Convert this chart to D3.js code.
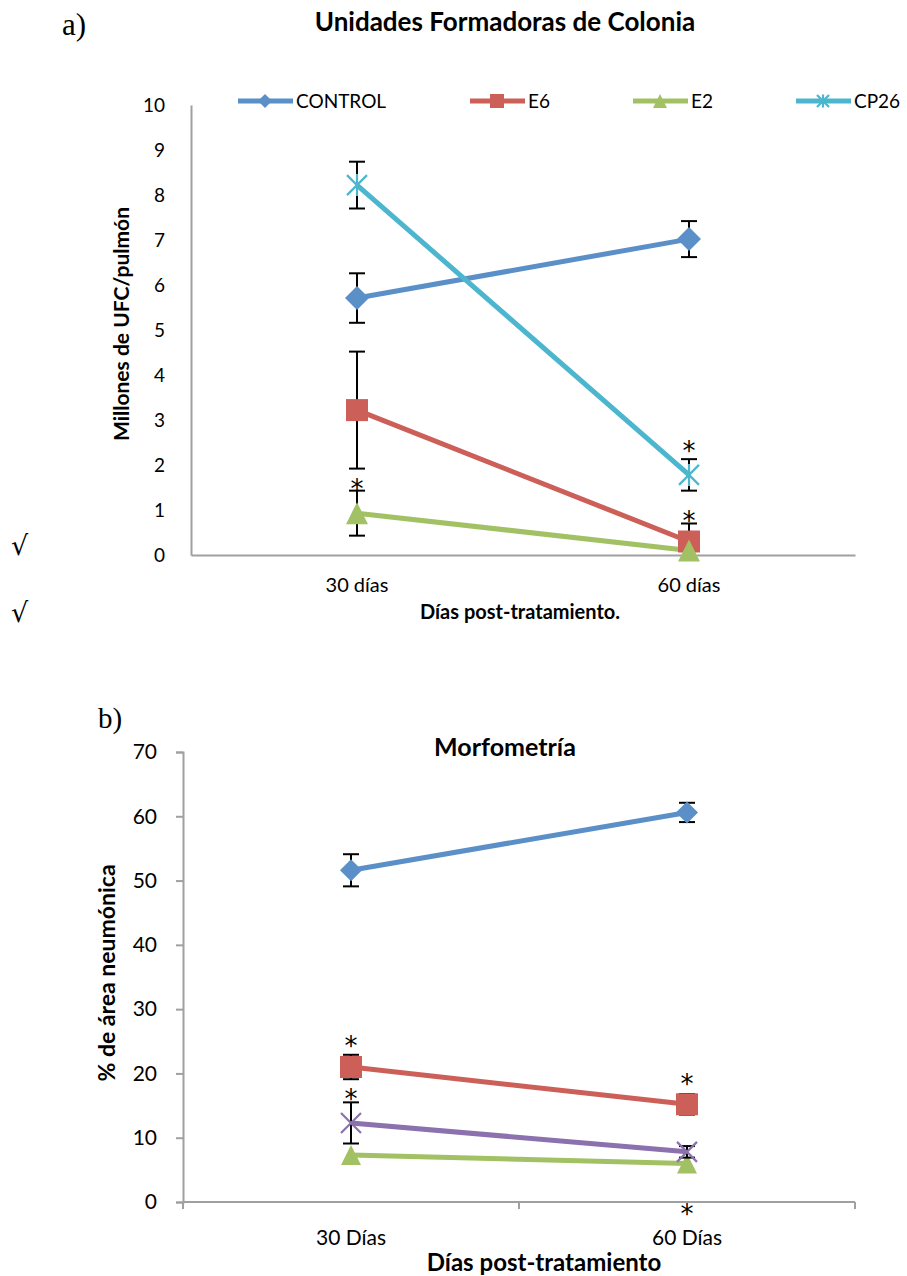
<!DOCTYPE html>
<html>
<head>
<meta charset="utf-8">
<script src="https://cdn.jsdelivr.net/npm/d3@7/dist/d3.min.js"></script>
<style>
  html, body { margin: 0; padding: 0; background: #fff; }
  svg { display: block; }
  text { font-family: Lato, "Open Sans", sans-serif; fill: #000; }
</style>
</head>
<body>
<svg id="chart" width="907" height="1276"></svg>
<script>
// ---- Panel a) : colony forming units ----
const ufcCategories = ["30 días", "60 días"];
const ufcSeriesNames = ["CONTROL", "E6", "E2", "CP26"];
const ufcControl = [5.71, 7.02];
const ufcControlErr = [0.55, 0.40];
const ufcE6 = [3.22, 0.30];
const ufcE6Err = [1.30, 0.40];
const ufcE2 = [0.93, 0.10];
const ufcE2Err = [0.50, 0];
const ufcCP26 = [8.22, 1.78];
const ufcCP26Err = [0.52, 0.35];
const ufcTicks = [0, 1, 2, 3, 4, 5, 6, 7, 8, 9, 10];
// significance marks: [series, category index, value where the mark sits]
const ufcStars = [["E2", 0, 1.56], ["CP26", 1, 2.40], ["E6", 1, 0.85]];

// ---- Panel b) : morphometry ----
const morfCategories = ["30 Días", "60 Días"];
const morfControl = [51.6, 60.6];
const morfControlErr = [2.5, 1.5];
const morfE6 = [21.0, 15.2];
const morfE6Err = [1.9, 1.6];
const morfE2 = [7.3, 6.0];
const morfE2Err = [0, 0];
const morfCP26 = [12.3, 7.8];
const morfCP26Err = [3.2, 0.9];
const morfTicks = [0, 10, 20, 30, 40, 50, 60, 70];
const morfStars = [["E6", 0, 24.9], ["CP26", 0, 16.6], ["E6", 1, 19.0], ["E2", 1, -1.2]];

const colors = { CONTROL: "#5B8FC8", E6: "#CD5F59", E2: "#A2C164", CP26: "#4CB6CE", CP26b: "#8B71AE" };

const svg = d3.select("#chart");

// marker shapes
function marker(g, shape, color, x, y, s) {
  if (shape === "diamond") {
    g.append("path").attr("d", `M${x},${y - s}L${x + s},${y}L${x},${y + s}L${x - s},${y}Z`).attr("fill", color);
  } else if (shape === "square") {
    g.append("rect").attr("x", x - s).attr("y", y - s).attr("width", 2 * s).attr("height", 2 * s).attr("fill", color);
  } else if (shape === "triangle") {
    g.append("path").attr("d", `M${x},${y - s}L${x + s},${y + s}L${x - s},${y + s}Z`).attr("fill", color);
  } else if (shape === "star") {
    g.append("path").attr("d", `M${x - s},${y - s}L${x + s},${y + s}M${x - s},${y + s}L${x + s},${y - s}M${x},${y - s * 1.1}L${x},${y + s * 1.1}`)
      .attr("stroke", color).attr("stroke-width", 2.2).attr("fill", "none");
  } else if (shape === "x") {
    g.append("path").attr("d", `M${x - s},${y - s}L${x + s},${y + s}M${x - s},${y + s}L${x + s},${y - s}`)
      .attr("stroke", color).attr("stroke-width", 2.2).attr("fill", "none");
  }
}

function drawSeries(g, x, y, cats, vals, errs, color, shape, size) {
  const pts = cats.map((c, i) => [x(c) + x.bandwidth() / 2, y(vals[i])]);
  g.append("path").attr("d", d3.line()(pts)).attr("stroke", color).attr("stroke-width", 5)
    .attr("fill", "none").attr("stroke-linejoin", "round");
  return { pts, cats, vals, errs, color, shape, size };
}

function drawErrors(g, x, y, s) {
  s.cats.forEach((c, i) => {
    const e = s.errs[i];
    if (!e) return;
    const cx = x(c) + x.bandwidth() / 2;
    const y1 = y(s.vals[i] + e), y0 = y(s.vals[i] - e);
    g.append("line").attr("x1", cx).attr("x2", cx).attr("y1", y1).attr("y2", y0).attr("stroke", "#000").attr("stroke-width", 2);
    [y1, y0].forEach(yy => g.append("line").attr("x1", cx - 8).attr("x2", cx + 8).attr("y1", yy).attr("y2", yy)
      .attr("stroke", "#000").attr("stroke-width", 2));
  });
}

function drawMarkers(g, s) {
  s.pts.forEach(p => marker(g, s.shape, s.color, p[0], p[1], s.size));
}

function drawStars(g, x, y, cats, stars) {
  stars.forEach(([_, ci, v]) => {
    g.append("text").attr("x", x(cats[ci]) + x.bandwidth() / 2).attr("y", y(v) + 13)
      .attr("text-anchor", "middle").style("font-family", "'DejaVu Sans', sans-serif").style("font-size", "26px").text("*");
  });
}

// ================= Panel a =================
{
  const g = svg.append("g");
  const x = d3.scaleBand().domain(ufcCategories).range([191, 855]);
  const y = d3.scaleLinear().domain([0, 10]).range([555, 105]);

  svg.append("text").attr("x", 62).attr("y", 35).style("font-family", "'Liberation Serif', serif").style("font-size", "31px").text("a)");
  svg.append("text").attr("x", 505).attr("y", 31).attr("text-anchor", "middle").style("font-weight", "bold").style("font-size", "26px")
    .text("Unidades Formadoras de Colonia");

  const yAxis = g.append("g").attr("transform", "translate(191,0)")
    .call(d3.axisLeft(y).tickValues(ufcTicks).tickSize(0).tickPadding(26).tickFormat(d3.format("d")));
  yAxis.select(".domain").attr("stroke", "#A0A0A0").attr("stroke-width", 2);
  yAxis.selectAll("text").style("font-size", "19px").style("font-family", "Lato, sans-serif");

  const xAxis = g.append("g").attr("transform", "translate(0,555)")
    .call(d3.axisBottom(x).tickSize(0).tickPadding(23));
  xAxis.select(".domain").attr("stroke", "#A0A0A0").attr("stroke-width", 2);
  xAxis.selectAll("text").style("font-size", "20px").style("font-family", "Lato, sans-serif");

  g.append("text").attr("transform", "translate(129,324) rotate(-90)").attr("text-anchor", "middle")
    .style("font-weight", "bold").style("font-size", "21px").text("Millones de UFC/pulmón");
  g.append("text").attr("x", 520).attr("y", 619).attr("text-anchor", "middle")
    .style("font-weight", "bold").style("font-size", "20px").text("Días post-tratamiento.");

  const series = [
    drawSeries(g, x, y, ufcCategories, ufcControl, ufcControlErr, colors.CONTROL, "diamond", 12),
    drawSeries(g, x, y, ufcCategories, ufcE6, ufcE6Err, colors.E6, "square", 11),
    drawSeries(g, x, y, ufcCategories, ufcE2, ufcE2Err, colors.E2, "triangle", 11),
    drawSeries(g, x, y, ufcCategories, ufcCP26, ufcCP26Err, colors.CP26, "star", 10)
  ];
  series.forEach(s => { drawErrors(g, x, y, s); drawMarkers(g, s); });
  drawStars(g, x, y, ufcCategories, ufcStars);

  // legend
  const legX = [238, 470, 633, 796];
  const shapes = ["diamond", "square", "triangle", "star"];
  const cols = [colors.CONTROL, colors.E6, colors.E2, colors.CP26];
  ufcSeriesNames.forEach((n, i) => {
    const lg = g.append("g");
    lg.append("line").attr("x1", legX[i]).attr("x2", legX[i] + 55).attr("y1", 101).attr("y2", 101)
      .attr("stroke", cols[i]).attr("stroke-width", 5);
    marker(lg, shapes[i], cols[i], legX[i] + 27, 101, shapes[i] === "star" ? 6 : 7);
    lg.append("text").attr("x", legX[i] + 58).attr("y", 108).style("font-size", "19px").text(n);
  });
}

// check marks in the left margin
svg.append("text").attr("x", 11).attr("y", 555).style("font-family", "'DejaVu Serif', serif").style("font-size", "27px").text("√");
svg.append("text").attr("x", 11).attr("y", 622).style("font-family", "'DejaVu Serif', serif").style("font-size", "27px").text("√");

// ================= Panel b =================
{
  const g = svg.append("g");
  const x = d3.scaleBand().domain(morfCategories).range([183, 855]);
  const y = d3.scaleLinear().domain([0, 70]).range([1202, 752]);

  svg.append("text").attr("x", 98).attr("y", 728).style("font-family", "'Liberation Serif', serif").style("font-size", "29px").text("b)");
  svg.append("text").attr("x", 505).attr("y", 756).attr("text-anchor", "middle").style("font-weight", "bold").style("font-size", "25px")
    .text("Morfometría");

  const yAxis = g.append("g").attr("transform", "translate(183,0)")
    .call(d3.axisLeft(y).tickValues(morfTicks).tickSize(7).tickPadding(19).tickFormat(d3.format("d")));
  yAxis.selectAll(".domain, .tick line").attr("stroke", "#A0A0A0").attr("stroke-width", 2);
  yAxis.selectAll("text").style("font-size", "21px").style("font-family", "Lato, sans-serif");

  // category axis with boundary ticks between and at the ends
  const xAxisG = g.append("g").attr("transform", "translate(0,1202)");
  xAxisG.append("line").attr("x1", 183).attr("x2", 855).attr("stroke", "#A0A0A0").attr("stroke-width", 2);
  const bounds = [x.range()[0]].concat(morfCategories.map(c => x(c) + x.bandwidth()));
  bounds.forEach(b => xAxisG.append("line").attr("x1", b).attr("x2", b).attr("y1", 0).attr("y2", 7)
    .attr("stroke", "#A0A0A0").attr("stroke-width", 2));
  morfCategories.forEach(c => xAxisG.append("text").attr("x", x(c) + x.bandwidth() / 2).attr("y", 43)
    .attr("text-anchor", "middle").style("font-size", "21px").text(c));

  g.append("text").attr("transform", "translate(115,973) rotate(-90)").attr("text-anchor", "middle")
    .style("font-weight", "bold").style("font-size", "23px").text("% de área neumónica");
  g.append("text").attr("x", 544).attr("y", 1271).attr("text-anchor", "middle")
    .style("font-weight", "bold").style("font-size", "24px").text("Días post-tratamiento");

  const series = [
    drawSeries(g, x, y, morfCategories, morfControl, morfControlErr, colors.CONTROL, "diamond", 11),
    drawSeries(g, x, y, morfCategories, morfE6, morfE6Err, colors.E6, "square", 11),
    drawSeries(g, x, y, morfCategories, morfE2, morfE2Err, colors.E2, "triangle", 10),
    drawSeries(g, x, y, morfCategories, morfCP26, morfCP26Err, colors.CP26b, "x", 10)
  ];
  series.forEach(s => { drawErrors(g, x, y, s); drawMarkers(g, s); });
  drawStars(g, x, y, morfCategories, morfStars);
}
</script>
</body>
</html>
